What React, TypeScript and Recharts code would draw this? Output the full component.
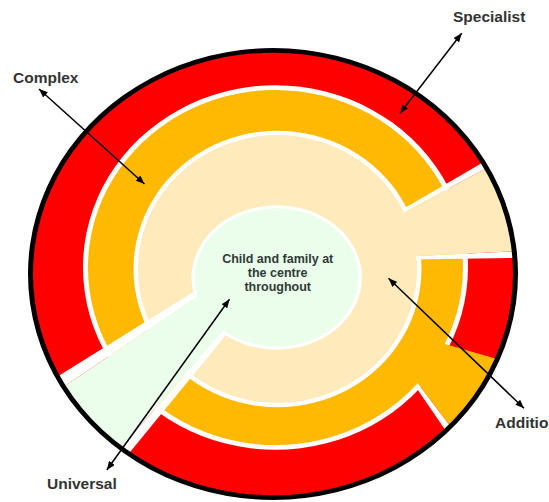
import type { ReactNode } from 'react'
import { Cell, Pie, PieChart } from 'recharts'

const W = 549
const H = 502
const PAD = 60 // extra room round every layer so squashed layers still cover the page

// Levels of need, outermost ring first
const LEVELS = ['Specialist', 'Complex', 'Additional', 'Universal']
const COLORS = ['#ff0000', '#ffb900', '#ffeabb', '#ebfdeb']
const GAP = '#ffffff'

// Breakout wedges, angular widths in degrees: [gap, fill, gap]
const COMPLEX_WEDGE = [2.8, 36.7]
const ADDITIONAL_WEDGE = [1.9, 25.5, 1.9]
const UNIVERSAL_WEDGE = [2.1, 15.0, 1.7]

const CENTRE_TEXT = ['Child and family at', 'the centre', 'throughout']

// Geometry of the rings: centre, horizontal radius, vertical squash (they are ellipses)
const OUTER = { cx: 273, cy: 274, r: 243, sy: 0.922 }
const RING_COMPLEX = { cx: 275.5, cy: 267.5, r: 187.5, sy: 0.947, gap: 5 }
const RING_ADDITIONAL = { cx: 277.5, cy: 269, r: 139.5, sy: 0.96, gap: 4.5 }
const RING_UNIVERSAL = { cx: 276.7, cy: 277.5, r: 81.7, sy: 0.847, gap: 3.5 }

// Wedge origins / start angles (the wedges are not radial from the ring centre)
const WEDGE_COMPLEX = { cx: 372, cy: 323, start: -55.6, inner: 0, outer: 260 }
const WEDGE_ADDITIONAL = { cx: 313.5, cy: 261, start: 0.85, inner: 0, outer: 260 }
const WEDGE_UNIVERSAL = { cx: 331.5, cy: 206, start: 211.9, inner: 100, outer: 340 }

// Label anchors and double-headed arrows [x1, y1, x2, y2], same order as LEVELS
const LABEL_POS = [
  [453, 22],
  [13, 83],
  [495, 428],
  [47, 489],
]
const ARROWS = [
  [461.7, 33.3, 400, 113.3],
  [39, 89, 144.5, 184],
  [524, 408.3, 388.5, 278.3],
  [106.8, 470, 229.5, 299.2],
]

const ONE = [{ v: 1 }]
const sum = (a: number[]) => a.reduce((s, x) => s + x, 0)

function Layer({
  cx,
  cy,
  sy = 1,
  children,
}: {
  cx: number
  cy: number
  sy?: number
  children: (cy: number) => ReactNode
}) {
  return (
    <div
      style={{
        position: 'absolute',
        left: 0,
        top: -PAD,
        width: W,
        height: H + 2 * PAD,
        transform: `scaleY(${sy})`,
        transformOrigin: `${cx}px ${cy + PAD}px`,
      }}
    >
      <PieChart width={W} height={H + 2 * PAD} margin={{ top: 0, right: 0, bottom: 0, left: 0 }}>
        {children(cy + PAD)}
      </PieChart>
    </div>
  )
}

type Ring = { cx: number; cy: number; r: number; sy: number; gap: number }

function disk(ring: Ring, fill: string, extra: number, key: string) {
  return (
    <Layer key={key} cx={ring.cx} cy={ring.cy} sy={ring.sy}>
      {(cy) => (
        <Pie
          data={ONE}
          dataKey="v"
          cx={ring.cx}
          cy={cy}
          outerRadius={ring.r + extra}
          fill={fill}
          stroke="none"
          isAnimationActive={false}
        />
      )}
    </Layer>
  )
}

function wedge(
  w: { cx: number; cy: number; start: number; inner: number; outer: number },
  spans: number[],
  fills: string[],
  key: string,
) {
  return (
    <Layer key={key} cx={w.cx} cy={w.cy}>
      {(cy) => (
        <Pie
          data={spans.map((v) => ({ v }))}
          dataKey="v"
          cx={w.cx}
          cy={cy}
          startAngle={w.start}
          endAngle={w.start + sum(spans)}
          innerRadius={w.inner}
          outerRadius={w.outer}
          stroke="none"
          isAnimationActive={false}
        >
          {spans.map((_, i) => (
            <Cell key={i} fill={fills[i]} />
          ))}
        </Pie>
      )}
    </Layer>
  )
}

export default function App() {
  const font = '"Liberation Sans", Arial, sans-serif'
  return (
    <div
      style={{
        position: 'absolute',
        left: 0,
        top: 0,
        width: W,
        height: H,
        overflow: 'hidden',
        background: '#fff',
      }}
    >
      {/* Specialist: outer red disk */}
      <Layer cx={OUTER.cx} cy={OUTER.cy} sy={OUTER.sy}>
        {(cy) => (
          <Pie
            data={ONE}
            dataKey="v"
            cx={OUTER.cx}
            cy={cy}
            outerRadius={OUTER.r}
            fill={COLORS[0]}
            stroke="none"
            isAnimationActive={false}
          />
        )}
      </Layer>

      {/* Complex: white halo, wedge, fill */}
      {disk(RING_COMPLEX, GAP, RING_COMPLEX.gap, 'c-halo')}
      {wedge(WEDGE_COMPLEX, COMPLEX_WEDGE, [GAP, COLORS[1]], 'c-wedge')}
      {disk(RING_COMPLEX, COLORS[1], 0, 'c-fill')}

      {/* Additional */}
      {disk(RING_ADDITIONAL, GAP, RING_ADDITIONAL.gap, 'a-halo')}
      {wedge(WEDGE_ADDITIONAL, ADDITIONAL_WEDGE, [GAP, COLORS[2], GAP], 'a-wedge')}
      {disk(RING_ADDITIONAL, COLORS[2], 0, 'a-fill')}

      {/* Universal */}
      {disk(RING_UNIVERSAL, GAP, RING_UNIVERSAL.gap, 'u-halo')}
      {wedge(WEDGE_UNIVERSAL, UNIVERSAL_WEDGE, [GAP, COLORS[3], GAP], 'u-wedge')}
      {disk(RING_UNIVERSAL, COLORS[3], 0, 'u-fill')}

      {/* trim the wedges at the outer ellipse, then the black rim */}
      <Layer cx={OUTER.cx} cy={OUTER.cy} sy={OUTER.sy}>
        {(cy) => [
          <Pie
            key="mask"
            data={ONE}
            dataKey="v"
            cx={OUTER.cx}
            cy={cy}
            innerRadius={OUTER.r}
            outerRadius={460}
            fill="#ffffff"
            stroke="none"
            isAnimationActive={false}
          />,
          <Pie
            key="rim"
            data={ONE}
            dataKey="v"
            cx={OUTER.cx}
            cy={cy}
            innerRadius={OUTER.r - 3}
            outerRadius={OUTER.r + 2}
            fill="#000000"
            stroke="none"
            isAnimationActive={false}
          />,
        ]}
      </Layer>

      <svg width={W} height={H} style={{ position: 'absolute', left: 0, top: 0 }}>
        <defs>
          <marker
            id="head"
            viewBox="0 0 10 8"
            refX={10}
            refY={4}
            markerWidth={9}
            markerHeight={7}
            markerUnits="userSpaceOnUse"
            orient="auto-start-reverse"
          >
            <path d="M0,0 L10,4 L0,8 z" fill="#000" />
          </marker>
        </defs>
        {ARROWS.map(([x1, y1, x2, y2], i) => (
          <line
            key={i}
            x1={x1}
            y1={y1}
            x2={x2}
            y2={y2}
            stroke="#000"
            strokeWidth={1.5}
            markerStart="url(#head)"
            markerEnd="url(#head)"
          />
        ))}
        {LEVELS.map((name, i) => (
          <text
            key={name}
            x={LABEL_POS[i][0]}
            y={LABEL_POS[i][1]}
            fontFamily={font}
            fontWeight="bold"
            fontSize={15.5}
            fill="#333"
          >
            {name}
          </text>
        ))}
        {CENTRE_TEXT.map((line, i) => (
          <text
            key={line}
            x={277.7}
            y={262.7 + i * 14}
            textAnchor="middle"
            fontFamily={font}
            fontWeight="bold"
            fontSize={12.5}
            fill="#2f3a36"
          >
            {line}
          </text>
        ))}
      </svg>
    </div>
  )
}
